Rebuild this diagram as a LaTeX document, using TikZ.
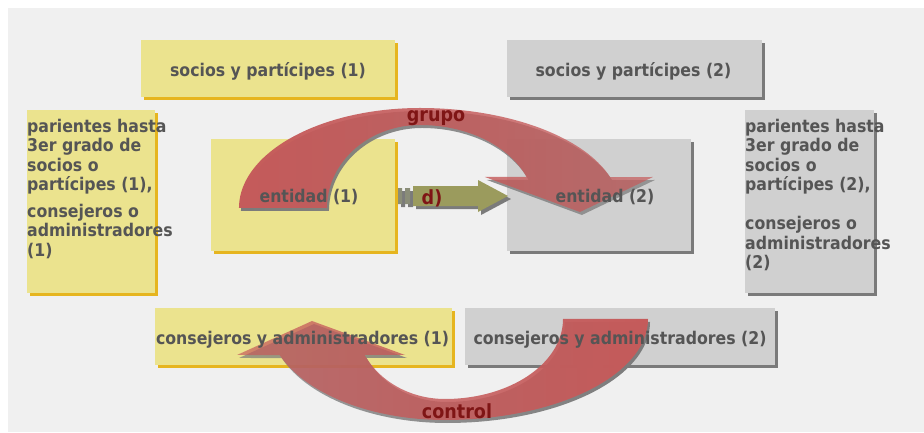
\documentclass[tikz,border=0pt]{standalone}
\usepackage{fontspec}
\setmainfont{DejaVu Sans Condensed}
\usetikzlibrary{fadings,shadows}

\definecolor{panel}{HTML}{F0F0F0}
\definecolor{yfill}{HTML}{EBE38E}
\definecolor{yshade}{HTML}{E6B51F}
\definecolor{gfill}{HTML}{D0D0D0}
\definecolor{gshade}{HTML}{7A7A7A}
\definecolor{txt}{HTML}{555555}
\definecolor{bandred}{HTML}{C55B5B}
\definecolor{bandshade}{HTML}{7B7B7B}
\definecolor{olive}{HTML}{9B9B5D}
\definecolor{olivebar}{HTML}{8A8D78}
\definecolor{lblred}{HTML}{7F1515}

\tikzfading[name=fadeeast, left color=transparent!0, right color=transparent!30]
\tikzfading[name=fadewest, left color=transparent!30, right color=transparent!0]

% curved band "grupo": from entidad (1) over the top down into entidad (2)
\newcommand\grupoband{
  plot[domain=180:270, samples=40] ({420+181*cos(\x)},{208+100*sin(\x)})
  -- plot[domain=270:342, samples=40] ({420+200*cos(\x)},{208+100*sin(\x)})
  -- (653,177) -- (580,212) -- (485,177)
  -- plot[domain=338:270, samples=40] ({420+115*cos(\x)},{208+83*sin(\x)})
  -- plot[domain=270:180, samples=40] ({420+93*cos(\x)},{208+83*sin(\x)})
  -- cycle}

% curved band "control": from consejeros (2) under the bottom up into consejeros (1)
\newcommand\controlband{
  plot[domain=0:90, samples=40] ({445+203*cos(\x)},{319+101*sin(\x)})
  -- plot[domain=90:159.1, samples=40] ({445+177*cos(\x)},{319+101*sin(\x)})
  -- (237,355) -- (312,321) -- (405,355)
  -- plot[domain=153.3:90, samples=40] ({445+90*cos(\x)},{319+80*sin(\x)})
  -- plot[domain=90:0, samples=40] ({445+118*cos(\x)},{319+80*sin(\x)})
  -- cycle}

% striped arrow "d)" between the two entities
\newcommand\dband{
  (413,186) -- (478,186) -- (478,180) -- (508,196) -- (478,212) -- (478,206) -- (413,206) -- cycle
  (398,188) rectangle (402,204)
  (405,188) rectangle (410,204)}

\begin{document}
\begin{tikzpicture}[x=1pt,y=-1pt,
  ybox/.style={rectangle, fill=yfill, inner sep=0pt, outer sep=0pt,
    drop shadow={shadow xshift=3pt, shadow yshift=-3pt, fill=yshade, opacity=1}},
  gbox/.style={rectangle, fill=gfill, inner sep=0pt, outer sep=0pt,
    drop shadow={shadow xshift=3pt, shadow yshift=-3pt, fill=gshade, opacity=1}},
  lbl/.style={font=\bfseries\fontsize{17.5}{19.5}\selectfont, text=txt, inner sep=0pt},
  arrlbl/.style={font=\bfseries\fontsize{19.5}{21}\selectfont, text=lblred, inner sep=0pt}]
\useasboundingbox (0,0) rectangle (924,432);
\fill[white] (0,0) rectangle (924,432);
\fill[panel] (8,8) rectangle (924,432);

% boxes
\node[ybox, minimum width=254pt, minimum height=57pt]  (sp1)  at (268,68.5)   {};
\node[gbox, minimum width=255pt, minimum height=57pt]  (sp2)  at (634.5,68.5) {};
\node[ybox, minimum width=128pt, minimum height=183pt] (par1) at (91,201.5)   {};
\node[gbox, minimum width=129pt, minimum height=183pt] (par2) at (809.5,201.5){};
\node[ybox, minimum width=184pt, minimum height=112pt] (ent1) at (303,195)    {};
\node[gbox, minimum width=184pt, minimum height=112pt] (ent2) at (599,195)    {};
\node[ybox, minimum width=297pt, minimum height=57pt]  (ca1)  at (303.5,336.5){};
\node[gbox, minimum width=310pt, minimum height=57pt]  (ca2)  at (620,336.5)  {};

% block arrows
\fill[bandshade, shift={(3,3)}] \dband;
\fill[olive] (413,186) -- (478,186) -- (478,180) -- (508,196) -- (478,212) -- (478,206) -- (413,206) -- cycle;
\fill[olivebar] (398,188) rectangle (402,204) (405,188) rectangle (410,204);

\fill[bandshade, shift={(2,3)}, path fading=fadeeast] \grupoband;
\fill[bandred, path fading=fadeeast] \grupoband;

\fill[bandshade, shift={(2,3)}, path fading=fadewest] \controlband;
\fill[bandred, path fading=fadewest] \controlband;

% box texts
\node[lbl, anchor=base] (sp1t) at (268,76) {socios y partícipes (1)};
\node[lbl, anchor=base] (sp2t) at (633.5,76) {socios y partícipes (2)};
\node[lbl, anchor=base] (ent1t) at (309,202) {entidad (1)};
\node[lbl, anchor=base] (ent2t) at (605,202) {entidad (2)};
\node[lbl, anchor=base] (ca1t) at (302.5,344) {consejeros y administradores (1)};
\node[lbl, anchor=base] (ca2t) at (620,344) {consejeros y administradores (2)};
\node[lbl, anchor=base west] (par1t) at (27,132)
  {\begin{tabular}[t]{@{}l@{}}parientes hasta\\3er grado de\\socios o\\partícipes (1),\\[7pt]consejeros o\\administradores\\(1)\end{tabular}};
\node[lbl, anchor=base west] (par2t) at (745,132)
  {\begin{tabular}[t]{@{}l@{}}parientes hasta\\3er grado de\\socios o\\partícipes (2),\\[19.5pt]consejeros o\\administradores\\(2)\end{tabular}};

% arrow labels
\node[arrlbl, anchor=base] (grupo) at (436,121) {grupo};
\node[arrlbl, anchor=base] (control) at (457,418) {control};
\node[arrlbl, anchor=base] (dlbl) at (432,204) {d)};
\end{tikzpicture}
\end{document}
